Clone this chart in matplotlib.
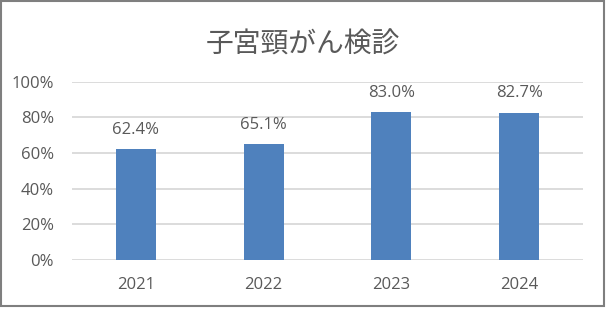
import matplotlib
matplotlib.use("Agg")
import matplotlib.pyplot as plt
from matplotlib.patches import Rectangle
from matplotlib.ticker import FuncFormatter

years = ["2021", "2022", "2023", "2024"]
rates = [62.4, 65.1, 83.0, 82.7]
labels = ["62.4%", "65.1%", "83.0%", "82.7%"]
title = "子宮頸がん検診"

plt.rcParams['font.family'] = ['Noto Sans CJK JP', 'DejaVu Sans']
grey = "#595959"

fig = plt.figure(figsize=(6.06, 3.10), dpi=100)
ax = fig.add_axes([0.1188, 0.1613, 0.8432, 0.5752])

x = list(range(len(years)))
ax.bar(x, rates, width=0.313, color="#4f81bd", zorder=3)
for xi, v, lab in zip(x, rates, labels):
    ax.annotate(lab, (xi, v), xytext=(0, 8), textcoords="offset points",
                ha="center", va="bottom", fontsize=12, color=grey,
                family=['Open Sans', 'DejaVu Sans'])

ax.set_xlim(-0.5, len(years) - 0.5)
ax.set_ylim(0, 100)
ax.set_yticks([0, 20, 40, 60, 80, 100])
ax.yaxis.set_major_formatter(FuncFormatter(lambda v, p: f"{int(v)}%"))
ax.set_xticks(x)
ax.set_xticklabels(years)
ax.grid(axis="y", color="#d9d9d9", linewidth=1.3, zorder=0)
for s in ax.spines.values():
    s.set_visible(False)
ax.tick_params(axis="both", length=0, colors=grey, labelsize=12)
ax.tick_params(axis="y", pad=13)
ax.tick_params(axis="x", pad=12)
for t in ax.get_xticklabels() + ax.get_yticklabels():
    t.set_family(['Open Sans', 'DejaVu Sans'])

fig.text(0.5, 0.855, title, ha="center", va="center", fontsize=20, color=grey)

fig.patches.append(Rectangle((0.002, 0.012), 0.994, 0.985, transform=fig.transFigure,
                             fill=False, edgecolor="#7f7f7f", linewidth=1.5))

fig.savefig("out.png", dpi=100)
